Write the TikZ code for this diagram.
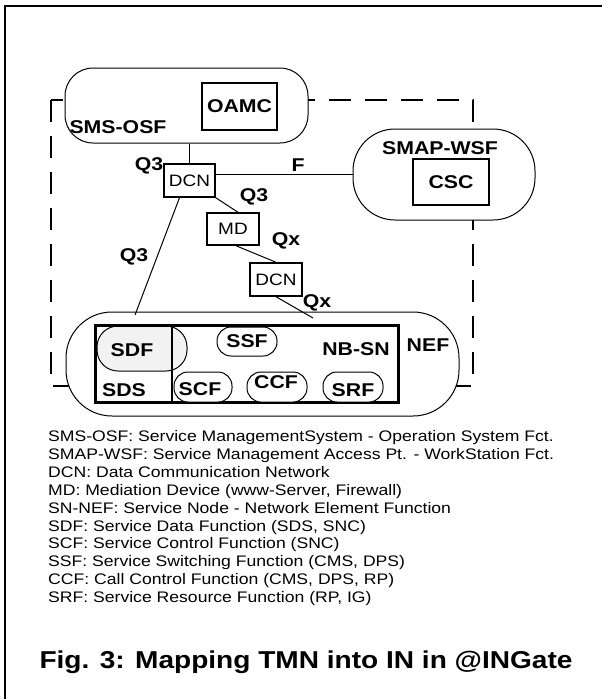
\documentclass[tikz,border=0pt]{standalone}
\usepackage{fontspec}
\setmainfont[FakeStretch=1.15]{Liberation Sans}
\begin{document}
\begin{tikzpicture}[x=1pt,y=-1pt,
  lab/.style={font=\fontsize{18.5}{21}\selectfont\bfseries, inner sep=0pt},
  boxtxt/.style={font=\fontsize{16.5}{19}\selectfont, inner sep=0pt},
  bigshape/.style={draw, fill=white, line width=1pt, inner sep=0pt},
  thickbox/.style={draw, fill=white, line width=1.7pt, inner sep=0pt},
  smallbox/.style={draw, fill=white, line width=1.5pt, inner sep=0pt},
  fn/.style={draw, fill=white, line width=1pt, inner sep=0pt, minimum height=30pt, rounded corners=14pt},
  legend/.style={font=\fontsize{15.3}{18}\selectfont, anchor=base west, inner sep=0pt},
  conn/.style={line width=1pt},
  connthick/.style={line width=1.6pt}]
\useasboundingbox (0,0) rectangle (602,699);
% outer frame (left and top edges)
\draw[line width=1.2pt] (5,699) -- (5,6) -- (602,6);
% dashed boundary
\draw[line width=1.8pt, dash pattern=on 22pt off 14pt] (51,100) rectangle (473,386);
% SMS-OSF
\node[bigshape, rounded corners=28pt, minimum width=243pt, minimum height=75pt] (osf) at (186.5,105.5) {};
\node[thickbox, minimum width=75pt, minimum height=47pt, font=\fontsize{18.5}{21}\selectfont\bfseries] (oamc) at (239.5,106.5) {OAMC};
\node[lab] (osflab) at (118,127) {SMS-OSF};
% SMAP-WSF
\node[bigshape, rounded corners=42pt, minimum width=182pt, minimum height=91pt] (smap) at (444,174.5) {};
\node[lab] (smaplab) at (440,148) {SMAP-WSF};
\node[thickbox, minimum width=76pt, minimum height=46pt, font=\fontsize{18.5}{21}\selectfont\bfseries] (csc) at (451,182) {CSC};
% NEF
\node[bigshape, rounded corners=46pt, minimum width=393pt, minimum height=104pt] (nef) at (262.5,364) {};
\node[draw, fill=gray!10, line width=1pt, rounded corners=21pt, minimum width=90pt, minimum height=45pt, inner sep=0pt] (sdf) at (142,348.5) {};
\node[draw, line width=1.8pt, minimum width=302pt, minimum height=76pt, inner sep=0pt] (nbsn) at (247,364) {};
\coordinate (divtop) at (172,326);
\draw[line width=1.8pt] (divtop) -- (divtop |- nbsn.south);
\node[lab] (sdflab) at (132,350) {SDF};
\node[lab] (sdslab) at (124,390) {SDS};
\node[fn, minimum width=60pt, minimum height=29pt] (ssf) at (247,341.5) {};
\node[lab] at (ssf.center) {SSF};
\node[fn, minimum width=58pt] (scf) at (203,387) {};
\node[lab] (scflab) at (200,389) {SCF};
\node[fn, minimum width=60pt] (ccf) at (277,387) {};
\node[lab] (ccflab) at (276,382) {CCF};
\node[fn, minimum width=60pt] (srf) at (353,387) {};
\node[lab] (srflab) at (353,390) {SRF};
\draw[line width=1.8pt] (nbsn.south west) rectangle (nbsn.north east);
\node[lab] (nbsnlab) at (356,349) {NB-SN};
\node[lab] (neflab) at (428,345) {NEF};
% DCN / MD boxes
\node[smallbox, minimum width=51pt, minimum height=33pt, boxtxt] (dcn1) at (189.5,180.5) {DCN};
\node[smallbox, minimum width=52pt, minimum height=32pt, boxtxt] (md) at (233,229) {MD};
\node[smallbox, minimum width=52pt, minimum height=33pt, boxtxt] (dcn2) at (276,279.5) {DCN};
% connectors
\draw[connthick] (dcn1.north) -- (dcn1.north |- osf.south);
\draw[connthick] ([yshift=6pt]dcn1.east) -- (smap.west);
\draw[conn] (dcn1.south east) -- ([xshift=5pt]md.north);
\draw[conn] ([xshift=3pt]md.south) -- (dcn2.north);
\coordinate (e1) at (313,318);
\draw[conn] (dcn2.south) -- (e1);
\coordinate (e2) at (135,315);
\draw[conn] ([xshift=-10pt]dcn1.south) -- (e2);
% interface labels
\node[lab] (q3a) at (149,166) {Q3};
\node[lab] (flab) at (298,165) {F};
\node[lab] (q3b) at (254,197) {Q3};
\node[lab] (qxa) at (286,241) {Qx};
\node[lab] (q3c) at (134,257) {Q3};
\node[lab] (qxb) at (317,303) {Qx};
% legend
\node[legend] (l1) at (48,441.5) {SMS-OSF: Service ManagementSystem - Operation System Fct.};
\node[legend] (l2) at (48,459.4) {SMAP-WSF: Service Management Access Pt. - WorkStation Fct.};
\node[legend] (l3) at (48,477.3) {DCN: Data Communication Network};
\node[legend] (l4) at (48,495.2) {MD: Mediation Device (www-Server, Firewall)};
\node[legend] (l5) at (48,513.1) {SN-NEF: Service Node - Network Element Function};
\node[legend] (l6) at (48,531.0) {SDF: Service Data Function (SDS, SNC)};
\node[legend] (l7) at (48,548.9) {SCF: Service Control Function (SNC)};
\node[legend] (l8) at (48,566.8) {SSF: Service Switching Function (CMS, DPS)};
\node[legend] (l9) at (48,584.7) {CCF: Call Control Function (CMS, DPS, RP)};
\node[legend] (l10) at (48,602.6) {SRF: Service Resource Function (RP, IG)};
\node[font=\fontsize{24.4}{28}\selectfont\bfseries, anchor=base, inner sep=0pt] (title) at (306,668) {Fig. 3: Mapping TMN into IN in @INGate};
\end{tikzpicture}
\end{document}
